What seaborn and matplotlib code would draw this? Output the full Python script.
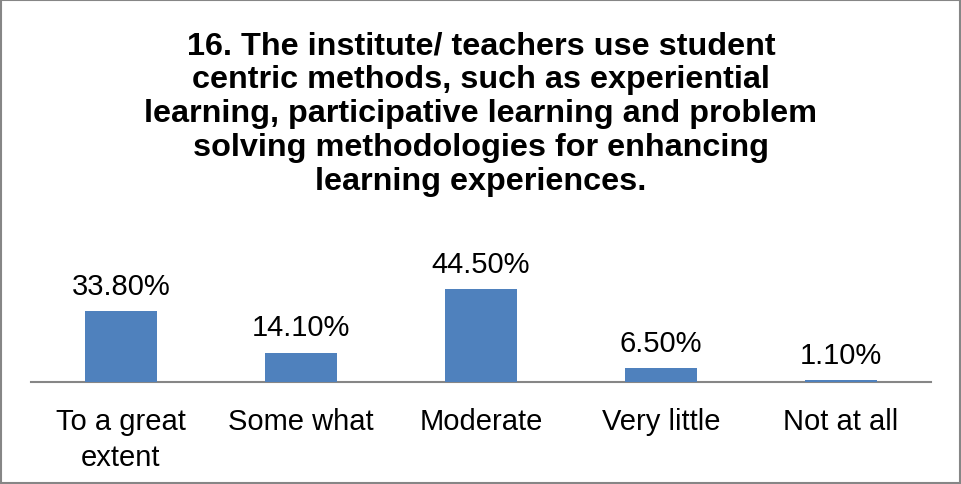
import matplotlib
matplotlib.use("Agg")
import matplotlib.pyplot as plt
import seaborn as sns
import pandas as pd
from matplotlib.patches import Rectangle

# data
categories = ["To a great\nextent", "Some what", "Moderate", "Very little", "Not at all"]
percent = [33.8, 14.1, 44.5, 6.5, 1.1]
value_labels = ["33.80%", "14.10%", "44.50%", "6.50%", "1.10%"]

title = ("16. The institute/ teachers use student\n"
         "centric methods, such as experiential\n"
         "learning, participative learning and problem\n"
         "solving methodologies for enhancing\n"
         "learning experiences.")

sns.set_theme(style="white")
plt.rcParams['font.family'] = ['Liberation Sans', 'DejaVu Sans']

df = pd.DataFrame({"cat": categories, "pct": percent})

fig = plt.figure(figsize=(9.62, 4.85), dpi=100)
ax = fig.add_axes([0.0322, 0.2103, 0.9356, 0.2155])

sns.barplot(data=df, x="cat", y="pct", color="#4F81BD", saturation=1,
            width=0.4, ax=ax, zorder=3, linewidth=0)

ax.set_ylim(0, 50)
ax.set_xlim(-0.5, len(categories) - 0.5)
for i, (v, lab) in enumerate(zip(percent, value_labels)):
    ax.annotate(lab, (i, v), xytext=(0, 8), textcoords="offset points",
                ha="center", va="bottom", fontsize=21, color="#000000")

ax.set_xlabel("")
ax.set_ylabel("")
ax.set_yticks([])
ax.tick_params(axis="x", length=0, pad=18, labelsize=21, colors="#000000")
for t in ax.get_xticklabels():
    t.set_linespacing(1.35)
for s in ["top", "left", "right"]:
    ax.spines[s].set_visible(False)
ax.spines["bottom"].set_color("#868686")
ax.spines["bottom"].set_linewidth(1.5)
ax.spines["bottom"].set_zorder(1)
ax.patch.set_alpha(0)

fig.text(0.5, 0.935, title, ha="center", va="top", fontsize=23.3,
         fontweight="bold", linespacing=1.17, color="#000000")

# chart frame
fig.patches.append(Rectangle((0.001, 0.002), 0.997, 0.996, transform=fig.transFigure,
                             fill=False, edgecolor="#868686", linewidth=1.5))

fig.savefig("out.png", dpi=100)
